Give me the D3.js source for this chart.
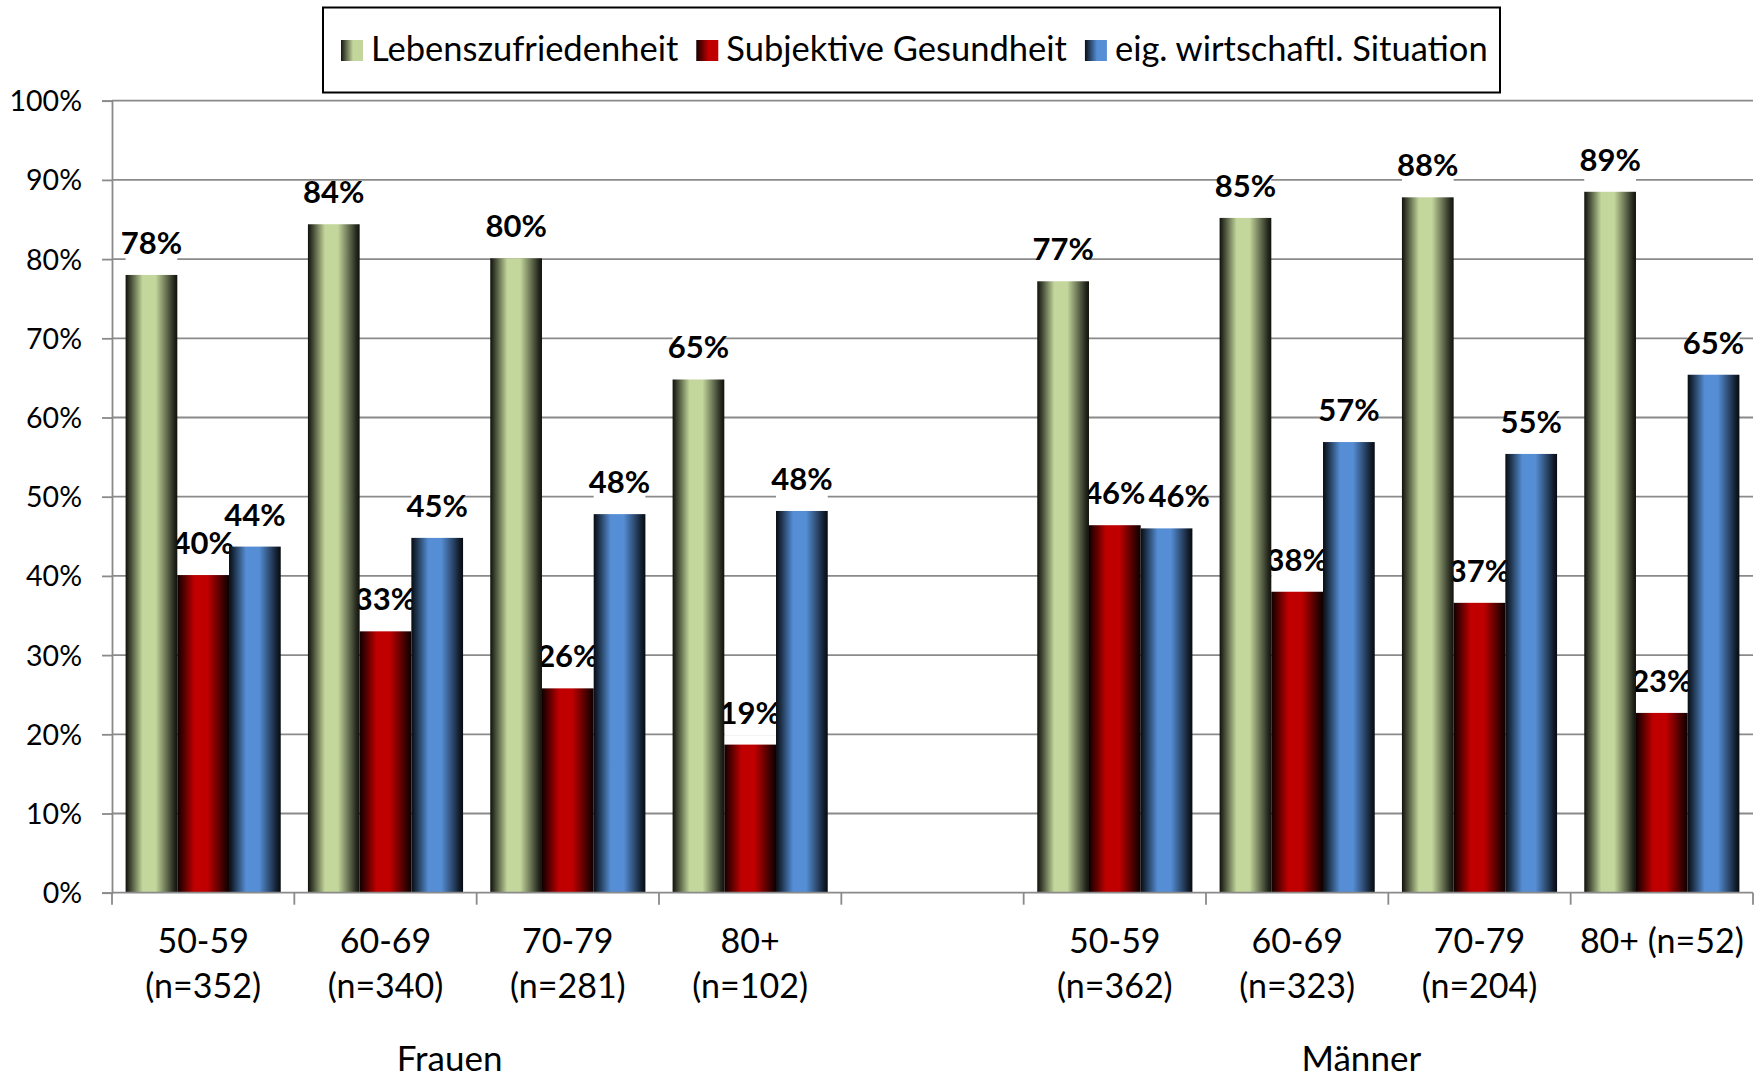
<!DOCTYPE html>
<html>
<head>
<meta charset="utf-8">
<script src="https://cdn.jsdelivr.net/npm/d3@7.9.0/dist/d3.min.js"></script>
<style>
  html, body { margin: 0; padding: 0; background: #fff; }
  svg { display: block; }
  text { font-family: Lato, 'Open Sans', sans-serif; fill: #000; }
</style>
</head>
<body>
<svg id="chart" width="1762" height="1077"></svg>
<script>
// categories (the empty slot separates Frauen and Männer)
const categories = ['F 50-59', 'F 60-69', 'F 70-79', 'F 80+', 'gap', 'M 50-59', 'M 60-69', 'M 70-79', 'M 80+'];
const tickLabels = [
  ['50-59', '(n=352)'], ['60-69', '(n=340)'], ['70-79', '(n=281)'], ['80+', '(n=102)'],
  [],
  ['50-59', '(n=362)'], ['60-69', '(n=323)'], ['70-79', '(n=204)'], ['80+ (n=52)']
];
const groupLabels = ['Frauen', 'Männer'];
const groupSpans = [['F 50-59', 'F 80+'], ['M 50-59', 'M 80+']];

const seriesNames = ['Lebenszufriedenheit', 'Subjektive Gesundheit', 'eig. wirtschaftl. Situation'];
const seriesColors = ['#c3d69b', '#c00000', '#558ed5'];

// percent values
const lebenszufriedenheit = [78.0, 84.4, 80.1, 64.8, null, 77.2, 85.2, 87.8, 88.5];
const subjektiveGesundheit = [40.1, 33.0, 25.8, 18.7, null, 46.4, 38.0, 36.6, 22.7];
const wirtschaftlicheSituation = [43.7, 44.8, 47.8, 48.2, null, 46.0, 56.9, 55.4, 65.4];

const yTicks = [0, 10, 20, 30, 40, 50, 60, 70, 80, 90, 100];

const seriesValues = [lebenszufriedenheit, subjektiveGesundheit, wirtschaftlicheSituation];
const rows = categories.map((c, i) => ({
  key: c,
  values: seriesNames.map((name, s) => ({ name, s, value: seriesValues[s][i] }))
}));

const svg = d3.select('#chart');
const gridColor = '#8a8a8a';

const x0 = d3.scaleBand().domain(categories).range([112, 1753]).padding(0);
const x1 = d3.scaleBand().domain(seriesNames).range([0, x0.bandwidth()]).paddingInner(0).paddingOuter(0.263);
const y = d3.scaleLinear().domain([0, 100]).range([892.7, 100.7]);

// gradients
const defs = svg.append('defs');
seriesColors.forEach((col, i) => {
  const shade = d3.interpolateRgb('#000', col);
  const g = defs.append('linearGradient').attr('id', `bar-grad-${i}`)
    .attr('x1', 0).attr('x2', 1).attr('y1', 0).attr('y2', 0);
  [[0, 0.08], [0.12, 0.4], [0.33, 1], [0.58, 1], [0.8, 0.5], [0.93, 0.2], [1, 0.08]]
    .forEach(([o, t]) => g.append('stop').attr('offset', o).attr('stop-color', shade(t)));
  const lg = defs.append('linearGradient').attr('id', `legend-grad-${i}`)
    .attr('x1', 0).attr('x2', 1).attr('y1', 0).attr('y2', 0);
  [[0, 0.1], [0.55, 1], [1, 1]]
    .forEach(([o, t]) => lg.append('stop').attr('offset', o).attr('stop-color', shade(t)));
});

// gridlines
svg.append('g')
  .selectAll('line')
  .data(yTicks.filter((d) => d > 0))
  .join('line')
  .attr('x1', x0.range()[0]).attr('x2', x0.range()[1])
  .attr('y1', (d) => y(d)).attr('y2', (d) => y(d))
  .attr('stroke', gridColor).attr('stroke-width', 1.8);

// y axis
const yAxis = svg.append('g')
  .attr('transform', `translate(${x0.range()[0]},0)`)
  .call(d3.axisLeft(y).tickValues(yTicks).tickSize(10).tickPadding(20).tickFormat((d) => d + '%'));
yAxis.select('.domain').attr('stroke', gridColor).attr('stroke-width', 1.8);
yAxis.selectAll('.tick line').attr('stroke', gridColor).attr('stroke-width', 1.8);
yAxis.selectAll('.tick text')
  .attr('font-family', null).attr('font-size', 28.5).attr('fill', '#000')
  .attr('dy', '0.35em');

// data labels (drawn before bars, bars cover their overhang)
const labelBgLayer = svg.append('g');
const labelLayer = svg.append('g');
const barLayer = svg.append('g');

rows.forEach((row) => {
  const placed = [];
  row.values.forEach((d) => {
    if (d.value === null) return;
    const cx = x0(row.key) + x1(d.name) + x1.bandwidth() / 2;
    const base = y(d.value) - 21;
    const t = labelLayer.append('text')
      .attr('font-size', 31).attr('font-weight', 700)
      .text(Math.round(d.value) + '%');
    const w = t.node().getComputedTextLength();
    let left = cx - w / 2;
    placed.forEach((p) => {
      if (Math.abs(p.base - base) < 22 && left < p.right + 3) left = p.right + 3;
    });
    placed.push({ base, right: left + w });
    t.attr('x', left).attr('y', base);
    labelBgLayer.append('rect')
      .attr('fill', '#fff')
      .attr('x', cx - x1.bandwidth() / 2).attr('width', x1.bandwidth())
      .attr('y', base - 22).attr('height', 34);
  });
});

// bars
barLayer.selectAll('g')
  .data(rows.filter((r) => r.values[0].value !== null))
  .join('g')
  .attr('transform', (r) => `translate(${x0(r.key)},0)`)
  .selectAll('rect')
  .data((r) => r.values)
  .join('rect')
  .attr('x', (d) => x1(d.name))
  .attr('width', x1.bandwidth())
  .attr('y', (d) => y(d.value))
  .attr('height', (d) => y(0) - y(d.value))
  .attr('fill', (d) => `url(#bar-grad-${d.s})`);

// x axis: line and ticks on band boundaries
const xAxis = svg.append('g');
xAxis.append('line')
  .attr('x1', x0.range()[0]).attr('x2', x0.range()[1])
  .attr('y1', y(0)).attr('y2', y(0))
  .attr('stroke', gridColor).attr('stroke-width', 1.8);
xAxis.selectAll('line.tick')
  .data([...categories.map((c) => x0(c)), x0.range()[1]])
  .join('line')
  .attr('class', 'tick')
  .attr('x1', (d) => d).attr('x2', (d) => d)
  .attr('y1', y(0)).attr('y2', y(0) + 12)
  .attr('stroke', gridColor).attr('stroke-width', 1.8);

categories.forEach((c, i) => {
  tickLabels[i].forEach((line, k) => {
    svg.append('text')
      .attr('text-anchor', 'middle')
      .attr('font-size', 34)
      .attr('x', x0(c) + x0.bandwidth() / 2)
      .attr('y', 953 + k * 45)
      .text(line);
  });
});

groupLabels.forEach((name, i) => {
  const [a, b] = groupSpans[i];
  const cx = (x0(a) + x0(b) + x0.bandwidth()) / 2 - 27;
  svg.append('text')
    .attr('text-anchor', 'middle')
    .attr('font-size', 35)
    .attr('x', cx).attr('y', 1071)
    .text(name);
});

// legend
const legend = svg.append('g');
legend.append('rect')
  .attr('x', 323).attr('y', 7.5).attr('width', 1177).attr('height', 85)
  .attr('fill', '#fff').attr('stroke', '#000').attr('stroke-width', 2);
let lx = 341;
seriesNames.forEach((name, i) => {
  legend.append('rect')
    .attr('x', lx).attr('y', 40).attr('width', 22).attr('height', 21)
    .attr('fill', `url(#legend-grad-${i})`);
  const t = legend.append('text')
    .attr('font-size', 34.5)
    .attr('x', lx + 30).attr('y', 61)
    .text(name);
  lx += 30 + t.node().getComputedTextLength() + 18;
});
</script>
</body>
</html>
